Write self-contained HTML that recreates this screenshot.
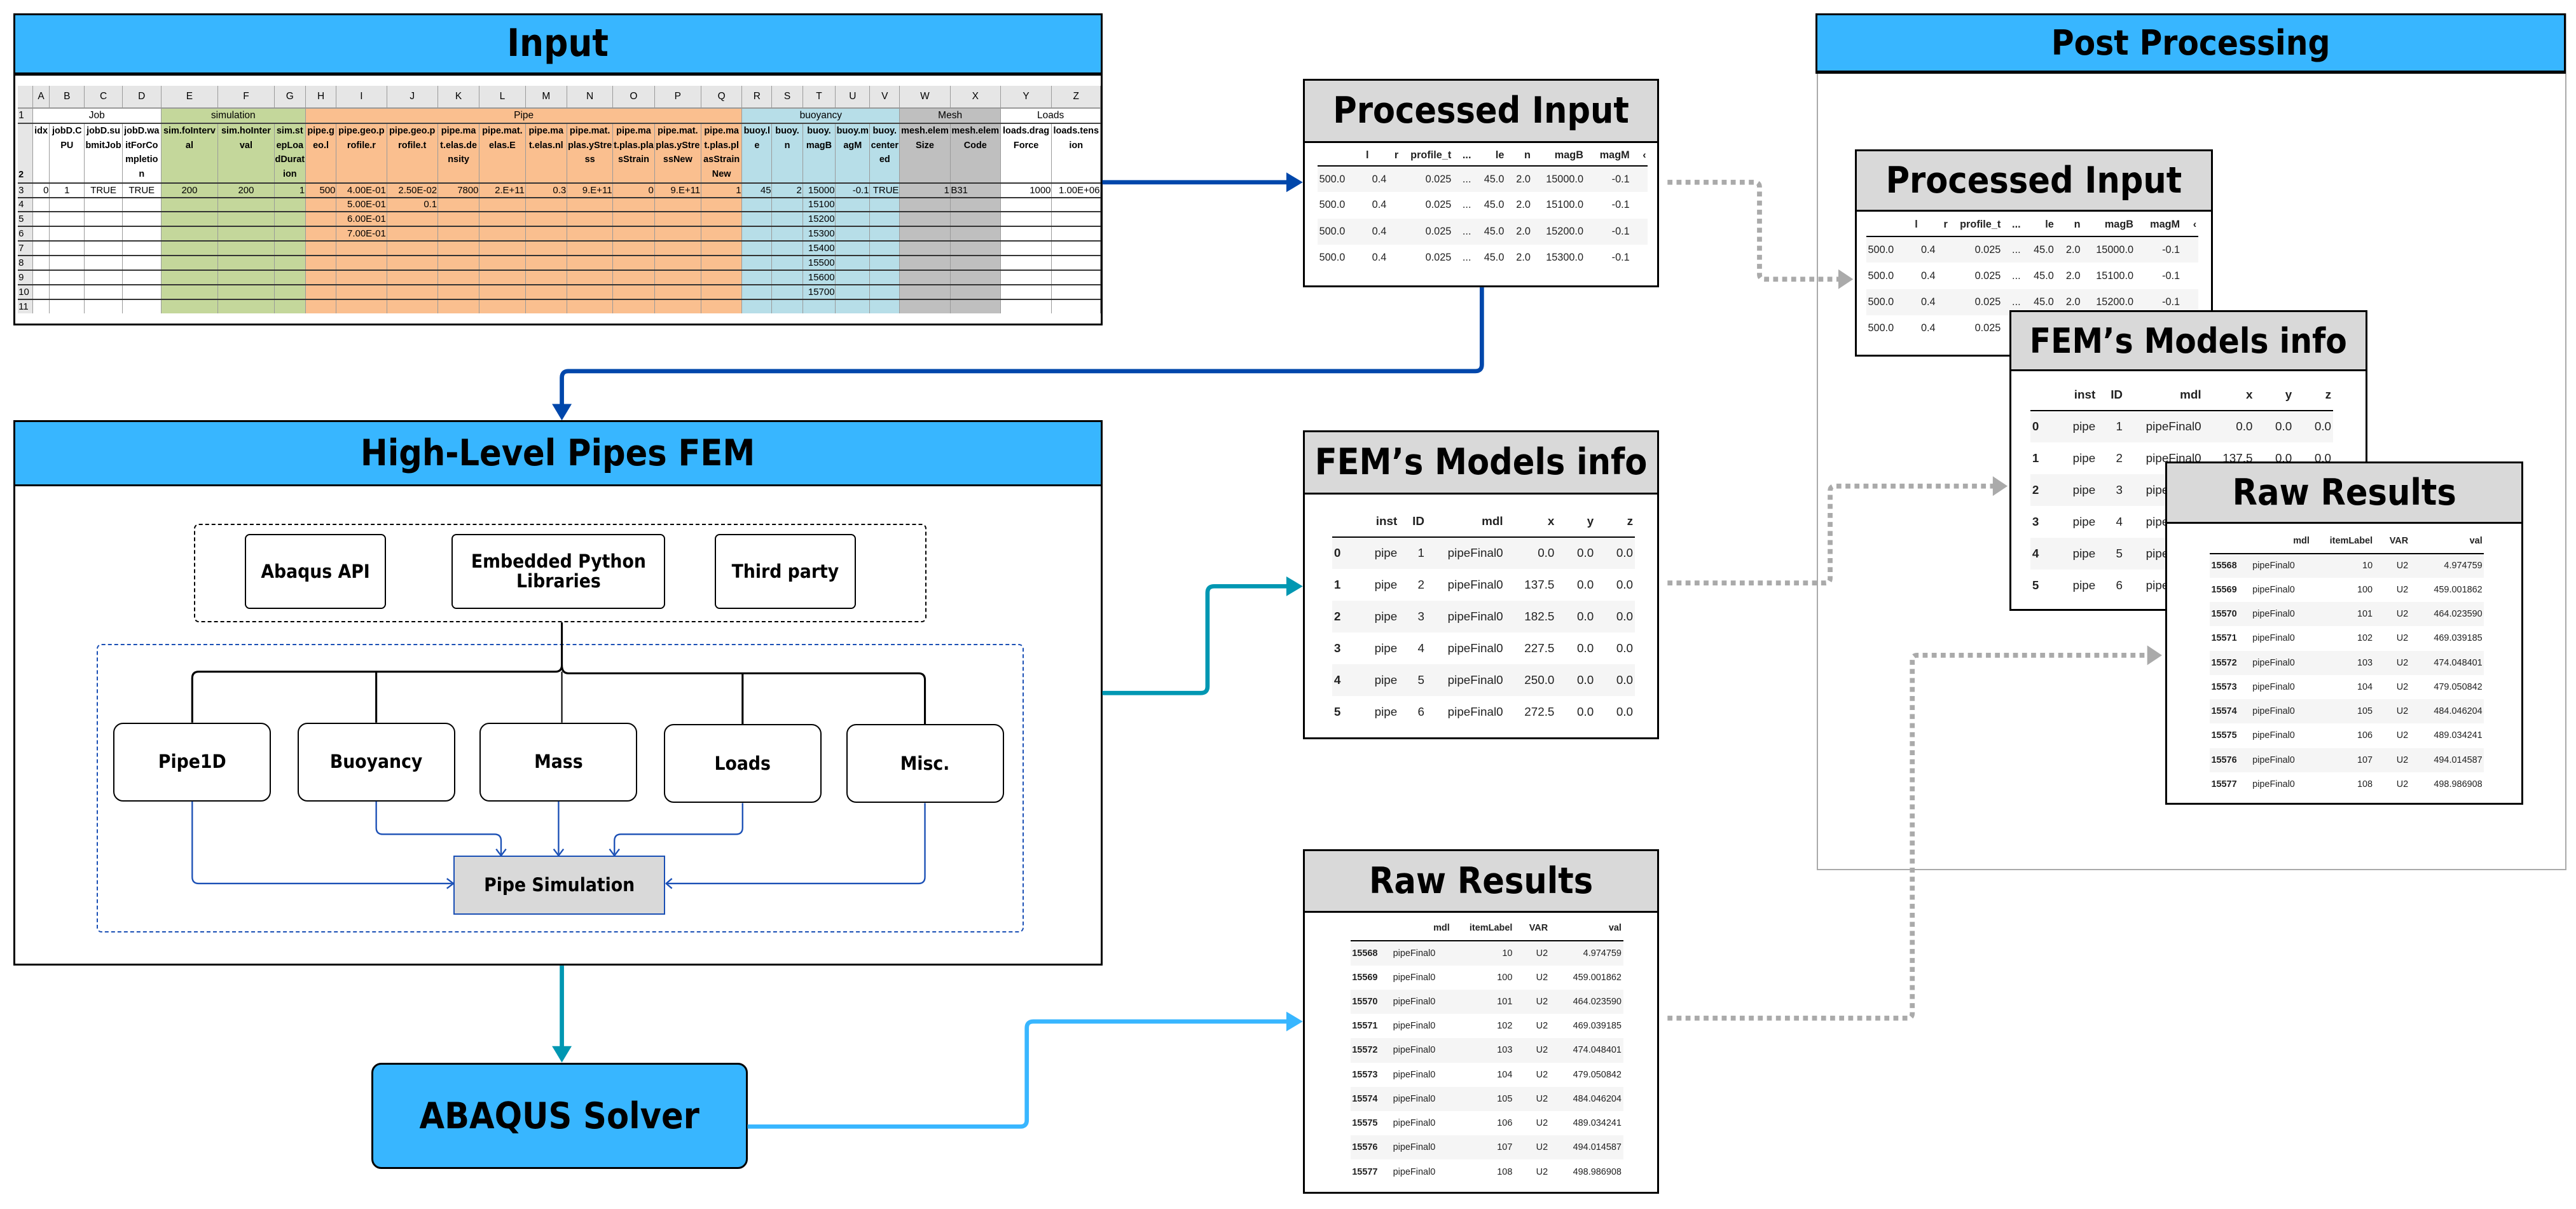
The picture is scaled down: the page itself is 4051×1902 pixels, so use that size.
<!DOCTYPE html>
<html><head><meta charset="utf-8">
<style>
html,body{margin:0;padding:0;background:#fff;}
body{width:4051px;height:1902px;overflow:hidden;}
#c{position:relative;width:1568px;height:736.2px;zoom:2.58355;font-family:"Liberation Sans",sans-serif;}
.a{position:absolute;box-sizing:border-box;}
.ttl{font-family:"DejaVu Sans Condensed","DejaVu Sans",sans-serif;font-weight:bold;color:#000;display:flex;align-items:center;justify-content:center;white-space:nowrap;}
.hb{background:#38b6ff;}
.gb{background:#d9d9d9;border-bottom:1.3px solid #000;}
.box{border:1.3px solid #000;background:#fff;}
.sb{border:1px solid #000;border-radius:3px;background:#fff;font-family:"DejaVu Sans Condensed","DejaVu Sans",sans-serif;font-weight:bold;font-size:11.5px;display:flex;align-items:center;justify-content:center;text-align:center;line-height:12px;}
.ss{border-collapse:collapse;table-layout:fixed;font-family:"Liberation Sans Narrow","Liberation Sans",sans-serif;}
.ss td{padding:0 0.3px;overflow:hidden;border-right:0.4px solid #9a9a9a;white-space:nowrap;font-size:5.8px;color:#000;}
.ss tr.lt td{background:#e6e6e6;text-align:center;height:12.9px;font-size:6px;border-bottom:1px solid #999;}
.ss tr.g td{text-align:center;height:8.6px;border-bottom:0.8px solid #444;font-size:6px;}
.ss tr.h td{height:35.5px;vertical-align:top;white-space:normal;word-break:break-all;font-size:5.6px;line-height:8.8px;font-weight:bold;text-align:center;border-bottom:1px solid #333;}
.ss tr.r td{height:8.1px;text-align:right;border-bottom:0.9px solid #333;}
.ss td.rh{background:#e6e6e6;text-align:left !important;}
.p{color:#7030a0;}
.dt{border-collapse:collapse;table-layout:fixed;width:100%;font-family:"Liberation Sans",sans-serif;color:#222;}
.dt th{font-weight:bold;text-align:right;border-bottom:0.8px solid #000;padding:0 1px;white-space:nowrap;overflow:hidden;}
.dt td{text-align:right;padding:0 1px;white-space:nowrap;overflow:hidden;}
.dt tbody tr:nth-child(odd){background:#f5f5f5;}
.dt td.b{font-weight:bold;}
.dt td.l{text-align:left;}
</style></head><body><div id="c">

<!-- INPUT -->
<div class="a box" style="left:8px;top:8px;width:663px;height:190px;"></div>
<div class="a hb ttl" style="left:8px;top:8px;width:663px;height:38px;border:1.3px solid #000;border-bottom:2px solid #000;font-size:23px;">Input</div>
<table class="ss a" style="left:11px;top:52.4px;width:659px;">
<colgroup>
<col style="width:8.9px"><col style="width:10.2px"><col style="width:21.3px"><col style="width:23.1px"><col style="width:23.5px">
<col style="width:34.7px;background:#c4d79b"><col style="width:34.2px;background:#c4d79b"><col style="width:19.1px;background:#c4d79b">
<col style="width:18.7px;background:#fabf8f"><col style="width:30.7px;background:#fabf8f"><col style="width:31.1px;background:#fabf8f"><col style="width:25.3px;background:#fabf8f"><col style="width:28px;background:#fabf8f"><col style="width:25.3px;background:#fabf8f"><col style="width:28px;background:#fabf8f"><col style="width:25.3px;background:#fabf8f"><col style="width:28.4px;background:#fabf8f"><col style="width:24.9px;background:#fabf8f">
<col style="width:18.2px;background:#b7dee8"><col style="width:18.7px;background:#b7dee8"><col style="width:20px;background:#b7dee8"><col style="width:20.9px;background:#b7dee8"><col style="width:18.2px;background:#b7dee8">
<col style="width:30.7px;background:#bfbfbf"><col style="width:30.7px;background:#bfbfbf">
<col style="width:31.1px"><col style="width:29.8px">
</colgroup>
<tr class="lt"><td style="width:8.9px"></td><td style="width:10.2px">A</td><td style="width:21.3px">B</td><td style="width:23.1px">C</td><td style="width:23.5px">D</td><td style="width:34.7px">E</td><td style="width:34.2px">F</td><td style="width:19.1px">G</td><td style="width:18.7px">H</td><td style="width:30.7px">I</td><td style="width:31.1px">J</td><td style="width:25.3px">K</td><td style="width:28px">L</td><td style="width:25.3px">M</td><td style="width:28px">N</td><td style="width:25.3px">O</td><td style="width:28.4px">P</td><td style="width:24.9px">Q</td><td style="width:18.2px">R</td><td style="width:18.7px">S</td><td style="width:20px">T</td><td style="width:20.9px">U</td><td style="width:18.2px">V</td><td style="width:30.7px">W</td><td style="width:30.7px">X</td><td style="width:31.1px">Y</td><td style="width:29.8px">Z</td></tr>
<tr class="g"><td class="rh">1</td><td colspan="4" style="background:#fff">Job</td><td colspan="3">simulation</td><td colspan="10">Pipe</td><td colspan="5" class="p">buoyancy</td><td colspan="2">Mesh</td><td colspan="2" style="background:#fff">Loads</td></tr>
<tr class="h"><td class="rh" style="vertical-align:bottom">2</td><td>idx</td><td>jobD.CPU</td><td>jobD.submitJob</td><td>jobD.waitForCompletion</td><td>sim.foInterval</td><td>sim.hoInterval</td><td>sim.stepLoadDuration</td><td class="p">pipe.geo.l</td><td class="p">pipe.geo.profile.r</td><td class="p">pipe.geo.profile.t</td><td>pipe.mat.elas.density</td><td>pipe.mat.elas.E</td><td>pipe.mat.elas.nl</td><td>pipe.mat.plas.yStress</td><td>pipe.mat.plas.plasStrain</td><td>pipe.mat.plas.yStressNew</td><td>pipe.mat.plas.plasStrainNew</td><td class="p">buoy.le</td><td class="p">buoy.n</td><td class="p">buoy.magB</td><td class="p">buoy.magM</td><td class="p">buoy.centered</td><td class="p">mesh.elemSize</td><td class="p">mesh.elemCode</td><td>loads.dragForce</td><td>loads.tension</td></tr>
<tr class="r"><td class="rh">3</td><td>0</td><td style="text-align:center">1</td><td style="text-align:center">TRUE</td><td style="text-align:center">TRUE</td><td style="text-align:center">200</td><td style="text-align:center">200</td><td>1</td><td class="p">500</td><td class="p">4.00E-01</td><td class="p">2.50E-02</td><td>7800</td><td>2.E+11</td><td>0.3</td><td>9.E+11</td><td>0</td><td>9.E+11</td><td>1</td><td class="p">45</td><td class="p">2</td><td class="p">15000</td><td class="p">-0.1</td><td class="p">TRUE</td><td class="p">1</td><td class="p" style="text-align:left">B31</td><td>1000</td><td>1.00E+06</td></tr>
<tr class="r"><td class="rh">4</td><td></td><td></td><td></td><td></td><td></td><td></td><td></td><td></td><td class="p">5.00E-01</td><td class="p">0.1</td><td></td><td></td><td></td><td></td><td></td><td></td><td></td><td></td><td></td><td class="p">15100</td><td></td><td></td><td></td><td></td><td></td><td></td></tr>
<tr class="r"><td class="rh">5</td><td></td><td></td><td></td><td></td><td></td><td></td><td></td><td></td><td class="p">6.00E-01</td><td></td><td></td><td></td><td></td><td></td><td></td><td></td><td></td><td></td><td></td><td class="p">15200</td><td></td><td></td><td></td><td></td><td></td><td></td></tr>
<tr class="r"><td class="rh">6</td><td></td><td></td><td></td><td></td><td></td><td></td><td></td><td></td><td class="p">7.00E-01</td><td></td><td></td><td></td><td></td><td></td><td></td><td></td><td></td><td></td><td></td><td class="p">15300</td><td></td><td></td><td></td><td></td><td></td><td></td></tr>
<tr class="r"><td class="rh">7</td><td></td><td></td><td></td><td></td><td></td><td></td><td></td><td></td><td></td><td></td><td></td><td></td><td></td><td></td><td></td><td></td><td></td><td></td><td></td><td class="p">15400</td><td></td><td></td><td></td><td></td><td></td><td></td></tr>
<tr class="r"><td class="rh">8</td><td></td><td></td><td></td><td></td><td></td><td></td><td></td><td></td><td></td><td></td><td></td><td></td><td></td><td></td><td></td><td></td><td></td><td></td><td></td><td class="p">15500</td><td></td><td></td><td></td><td></td><td></td><td></td></tr>
<tr class="r"><td class="rh">9</td><td></td><td></td><td></td><td></td><td></td><td></td><td></td><td></td><td></td><td></td><td></td><td></td><td></td><td></td><td></td><td></td><td></td><td></td><td></td><td class="p">15600</td><td></td><td></td><td></td><td></td><td></td><td></td></tr>
<tr class="r"><td class="rh">10</td><td></td><td></td><td></td><td></td><td></td><td></td><td></td><td></td><td></td><td></td><td></td><td></td><td></td><td></td><td></td><td></td><td></td><td></td><td></td><td class="p">15700</td><td></td><td></td><td></td><td></td><td></td><td></td></tr>
<tr class="r"><td class="rh" style="border-bottom:none;height:5px">11</td><td style="border-bottom:none"></td><td style="border-bottom:none"></td><td style="border-bottom:none"></td><td style="border-bottom:none"></td><td style="border-bottom:none"></td><td style="border-bottom:none"></td><td style="border-bottom:none"></td><td style="border-bottom:none"></td><td style="border-bottom:none"></td><td style="border-bottom:none"></td><td style="border-bottom:none"></td><td style="border-bottom:none"></td><td style="border-bottom:none"></td><td style="border-bottom:none"></td><td style="border-bottom:none"></td><td style="border-bottom:none"></td><td style="border-bottom:none"></td><td style="border-bottom:none"></td><td style="border-bottom:none"></td><td style="border-bottom:none"></td><td style="border-bottom:none"></td><td style="border-bottom:none"></td><td style="border-bottom:none"></td><td style="border-bottom:none"></td><td style="border-bottom:none"></td><td style="border-bottom:none"></td></tr>
</table>

<!-- HIGH LEVEL FEM -->
<div class="a box" style="left:8px;top:256px;width:663px;height:332px;"></div>
<div class="a hb ttl" style="left:8px;top:256px;width:663px;height:40px;border:1.3px solid #000;font-size:22px;">High-Level Pipes FEM</div>
<div class="a" style="left:118px;top:319px;width:446px;height:60px;border:1px dashed #000;border-radius:3px;"></div>
<div class="a sb" style="left:149px;top:325px;width:86px;height:46px;">Abaqus API</div>
<div class="a sb" style="left:275px;top:325px;width:130px;height:46px;">Embedded Python<br>Libraries</div>
<div class="a sb" style="left:435px;top:325px;width:86px;height:46px;">Third party</div>
<div class="a" style="left:59px;top:392px;width:564px;height:176px;border:1px dashed #1a4fb5;border-radius:3px;"></div>
<div class="a sb" style="left:69px;top:440px;width:96px;height:48px;border-radius:6px;">Pipe1D</div>
<div class="a sb" style="left:181px;top:440px;width:96px;height:48px;border-radius:6px;">Buoyancy</div>
<div class="a sb" style="left:292px;top:440px;width:96px;height:48px;border-radius:6px;">Mass</div>
<div class="a sb" style="left:404px;top:441px;width:96px;height:48px;border-radius:6px;">Loads</div>
<div class="a sb" style="left:515px;top:441px;width:96px;height:48px;border-radius:6px;">Misc.</div>
<div class="a sb" style="left:276px;top:521px;width:129px;height:36px;background:#d9d9d9;border:1px solid #1a4fb5;border-radius:0;">Pipe Simulation</div>

<!-- ABAQUS -->
<div class="a hb ttl" style="left:226px;top:647px;width:229px;height:65px;border:1.3px solid #000;border-radius:6px;font-size:22px;">ABAQUS Solver</div>

<!-- MID PROCESSED INPUT -->
<div class="a box" style="left:793px;top:48px;width:217px;height:127px;"></div>
<div class="a gb ttl" style="left:793px;top:48px;width:217px;height:39px;border:1.3px solid #000;font-size:22px;">Processed Input</div>
<div class="a" style="left:802px;top:89px;width:201px;">
<table class="dt" style="font-size:6.3px;">
<colgroup><col style="width:16%"><col style="width:9%"><col style="width:16%"><col style="width:6%"><col style="width:10%"><col style="width:8%"><col style="width:16%"><col style="width:14%"><col style="width:5%"></colgroup>
<thead><tr style="height:12px"><th>l</th><th>r</th><th>profile_t</th><th>...</th><th>le</th><th>n</th><th>magB</th><th>magM</th><th>‹</th></tr></thead>
<tbody>
<tr style="height:16px"><td class="l">500.0</td><td class="l">0.4</td><td>0.025</td><td>...</td><td>45.0</td><td>2.0</td><td>15000.0</td><td>-0.1</td><td></td></tr>
<tr style="height:16px"><td class="l">500.0</td><td class="l">0.4</td><td>0.025</td><td>...</td><td>45.0</td><td>2.0</td><td>15100.0</td><td>-0.1</td><td></td></tr>
<tr style="height:16px"><td class="l">500.0</td><td class="l">0.4</td><td>0.025</td><td>...</td><td>45.0</td><td>2.0</td><td>15200.0</td><td>-0.1</td><td></td></tr>
<tr style="height:16px"><td class="l">500.0</td><td class="l">0.4</td><td>0.025</td><td>...</td><td>45.0</td><td>2.0</td><td>15300.0</td><td>-0.1</td><td></td></tr>
</tbody></table></div>

<!-- MID FEM INFO -->
<div class="a box" style="left:793px;top:262px;width:217px;height:188px;"></div>
<div class="a gb ttl" style="left:793px;top:262px;width:217px;height:39px;border:1.3px solid #000;font-size:22px;">FEM’s Models info</div>
<div class="a" style="left:811px;top:308px;width:184px;">
<table class="dt" style="font-size:7.3px;">
<colgroup><col style="width:8%"><col style="width:14%"><col style="width:9%"><col style="width:26%"><col style="width:17%"><col style="width:13%"><col style="width:13%"></colgroup>
<thead><tr style="height:19px"><th></th><th>inst</th><th style="text-align:right">ID</th><th>mdl</th><th>x</th><th>y</th><th>z</th></tr></thead>
<tbody>
<tr style="height:19.4px"><td class="b l">0</td><td>pipe</td><td>1</td><td>pipeFinal0</td><td>0.0</td><td>0.0</td><td>0.0</td></tr>
<tr style="height:19.4px"><td class="b l">1</td><td>pipe</td><td>2</td><td>pipeFinal0</td><td>137.5</td><td>0.0</td><td>0.0</td></tr>
<tr style="height:19.4px"><td class="b l">2</td><td>pipe</td><td>3</td><td>pipeFinal0</td><td>182.5</td><td>0.0</td><td>0.0</td></tr>
<tr style="height:19.4px"><td class="b l">3</td><td>pipe</td><td>4</td><td>pipeFinal0</td><td>227.5</td><td>0.0</td><td>0.0</td></tr>
<tr style="height:19.4px"><td class="b l">4</td><td>pipe</td><td>5</td><td>pipeFinal0</td><td>250.0</td><td>0.0</td><td>0.0</td></tr>
<tr style="height:19.4px"><td class="b l">5</td><td>pipe</td><td>6</td><td>pipeFinal0</td><td>272.5</td><td>0.0</td><td>0.0</td></tr>
</tbody></table></div>

<!-- MID RAW -->
<div class="a box" style="left:793px;top:517px;width:217px;height:210px;"></div>
<div class="a gb ttl" style="left:793px;top:517px;width:217px;height:39px;border:1.3px solid #000;font-size:22px;">Raw Results</div>
<div class="a" style="left:822px;top:558px;width:166px;">
<table class="dt" style="font-size:5.6px;">
<colgroup><col style="width:15%"><col style="width:22%"><col style="width:23%"><col style="width:13%"><col style="width:27%"></colgroup>
<thead><tr style="height:15px"><th></th><th>mdl</th><th>itemLabel</th><th>VAR</th><th>val</th></tr></thead>
<tbody>
<tr style="height:14.8px"><td class="b l">15568</td><td class="l">pipeFinal0</td><td>10</td><td>U2</td><td>4.974759</td></tr>
<tr style="height:14.8px"><td class="b l">15569</td><td class="l">pipeFinal0</td><td>100</td><td>U2</td><td>459.001862</td></tr>
<tr style="height:14.8px"><td class="b l">15570</td><td class="l">pipeFinal0</td><td>101</td><td>U2</td><td>464.023590</td></tr>
<tr style="height:14.8px"><td class="b l">15571</td><td class="l">pipeFinal0</td><td>102</td><td>U2</td><td>469.039185</td></tr>
<tr style="height:14.8px"><td class="b l">15572</td><td class="l">pipeFinal0</td><td>103</td><td>U2</td><td>474.048401</td></tr>
<tr style="height:14.8px"><td class="b l">15573</td><td class="l">pipeFinal0</td><td>104</td><td>U2</td><td>479.050842</td></tr>
<tr style="height:14.8px"><td class="b l">15574</td><td class="l">pipeFinal0</td><td>105</td><td>U2</td><td>484.046204</td></tr>
<tr style="height:14.8px"><td class="b l">15575</td><td class="l">pipeFinal0</td><td>106</td><td>U2</td><td>489.034241</td></tr>
<tr style="height:14.8px"><td class="b l">15576</td><td class="l">pipeFinal0</td><td>107</td><td>U2</td><td>494.014587</td></tr>
<tr style="height:14.8px"><td class="b l">15577</td><td class="l">pipeFinal0</td><td>108</td><td>U2</td><td>498.986908</td></tr>
</tbody></table></div>

<!-- POST PROCESSING -->
<div class="a" style="left:1106px;top:8px;width:456px;height:522px;border:1px solid #aaa;background:#fff;"></div>
<div class="a hb ttl" style="left:1105px;top:8px;width:457px;height:37px;border:1.3px solid #000;border-bottom:2px solid #000;font-size:21px;">Post Processing</div>

<div class="a box" style="left:1129px;top:91px;width:218px;height:126px;"></div>
<div class="a gb ttl" style="left:1129px;top:91px;width:218px;height:38px;border:1.3px solid #000;font-size:22px;">Processed Input</div>
<div class="a" style="left:1136px;top:130px;width:202px;">
<table class="dt" style="font-size:6.3px;">
<colgroup><col style="width:16%"><col style="width:9%"><col style="width:16%"><col style="width:6%"><col style="width:10%"><col style="width:8%"><col style="width:16%"><col style="width:14%"><col style="width:5%"></colgroup>
<thead><tr style="height:14px"><th>l</th><th>r</th><th>profile_t</th><th>...</th><th>le</th><th>n</th><th>magB</th><th>magM</th><th>‹</th></tr></thead>
<tbody>
<tr style="height:16px"><td class="l">500.0</td><td class="l">0.4</td><td>0.025</td><td>...</td><td>45.0</td><td>2.0</td><td>15000.0</td><td>-0.1</td><td></td></tr>
<tr style="height:16px"><td class="l">500.0</td><td class="l">0.4</td><td>0.025</td><td>...</td><td>45.0</td><td>2.0</td><td>15100.0</td><td>-0.1</td><td></td></tr>
<tr style="height:16px"><td class="l">500.0</td><td class="l">0.4</td><td>0.025</td><td>...</td><td>45.0</td><td>2.0</td><td>15200.0</td><td>-0.1</td><td></td></tr>
<tr style="height:16px"><td class="l">500.0</td><td class="l">0.4</td><td>0.025</td><td>...</td><td>45.0</td><td>2.0</td><td>15300.0</td><td>-0.1</td><td></td></tr>
</tbody></table></div>

<div class="a box" style="left:1223px;top:189px;width:218px;height:183px;"></div>
<div class="a gb ttl" style="left:1223px;top:189px;width:218px;height:37px;border:1.3px solid #000;font-size:21px;">FEM’s Models info</div>
<div class="a" style="left:1236px;top:231px;width:184px;">
<table class="dt" style="font-size:7.3px;">
<colgroup><col style="width:8%"><col style="width:14%"><col style="width:9%"><col style="width:26%"><col style="width:17%"><col style="width:13%"><col style="width:13%"></colgroup>
<thead><tr style="height:19px"><th></th><th>inst</th><th style="text-align:right">ID</th><th>mdl</th><th>x</th><th>y</th><th>z</th></tr></thead>
<tbody>
<tr style="height:19.4px"><td class="b l">0</td><td>pipe</td><td>1</td><td>pipeFinal0</td><td>0.0</td><td>0.0</td><td>0.0</td></tr>
<tr style="height:19.4px"><td class="b l">1</td><td>pipe</td><td>2</td><td>pipeFinal0</td><td>137.5</td><td>0.0</td><td>0.0</td></tr>
<tr style="height:19.4px"><td class="b l">2</td><td>pipe</td><td>3</td><td>pipeFinal0</td><td>182.5</td><td>0.0</td><td>0.0</td></tr>
<tr style="height:19.4px"><td class="b l">3</td><td>pipe</td><td>4</td><td>pipeFinal0</td><td>227.5</td><td>0.0</td><td>0.0</td></tr>
<tr style="height:19.4px"><td class="b l">4</td><td>pipe</td><td>5</td><td>pipeFinal0</td><td>250.0</td><td>0.0</td><td>0.0</td></tr>
<tr style="height:19.4px"><td class="b l">5</td><td>pipe</td><td>6</td><td>pipeFinal0</td><td>272.5</td><td>0.0</td><td>0.0</td></tr>
</tbody></table></div>

<div class="a box" style="left:1318px;top:281px;width:218px;height:209px;"></div>
<div class="a gb ttl" style="left:1318px;top:281px;width:218px;height:38px;border:1.3px solid #000;font-size:22px;">Raw Results</div>
<div class="a" style="left:1345px;top:322px;width:167px;">
<table class="dt" style="font-size:5.6px;">
<colgroup><col style="width:15%"><col style="width:22%"><col style="width:23%"><col style="width:13%"><col style="width:27%"></colgroup>
<thead><tr style="height:15px"><th></th><th>mdl</th><th>itemLabel</th><th>VAR</th><th>val</th></tr></thead>
<tbody>
<tr style="height:14.8px"><td class="b l">15568</td><td class="l">pipeFinal0</td><td>10</td><td>U2</td><td>4.974759</td></tr>
<tr style="height:14.8px"><td class="b l">15569</td><td class="l">pipeFinal0</td><td>100</td><td>U2</td><td>459.001862</td></tr>
<tr style="height:14.8px"><td class="b l">15570</td><td class="l">pipeFinal0</td><td>101</td><td>U2</td><td>464.023590</td></tr>
<tr style="height:14.8px"><td class="b l">15571</td><td class="l">pipeFinal0</td><td>102</td><td>U2</td><td>469.039185</td></tr>
<tr style="height:14.8px"><td class="b l">15572</td><td class="l">pipeFinal0</td><td>103</td><td>U2</td><td>474.048401</td></tr>
<tr style="height:14.8px"><td class="b l">15573</td><td class="l">pipeFinal0</td><td>104</td><td>U2</td><td>479.050842</td></tr>
<tr style="height:14.8px"><td class="b l">15574</td><td class="l">pipeFinal0</td><td>105</td><td>U2</td><td>484.046204</td></tr>
<tr style="height:14.8px"><td class="b l">15575</td><td class="l">pipeFinal0</td><td>106</td><td>U2</td><td>489.034241</td></tr>
<tr style="height:14.8px"><td class="b l">15576</td><td class="l">pipeFinal0</td><td>107</td><td>U2</td><td>494.014587</td></tr>
<tr style="height:14.8px"><td class="b l">15577</td><td class="l">pipeFinal0</td><td>108</td><td>U2</td><td>498.986908</td></tr>
</tbody></table></div>

<!-- CONNECTORS -->
<svg class="a" style="left:0;top:0;" width="1568" height="736" viewBox="0 0 1568 736">
<g fill="none" stroke-linejoin="round">
<path d="M671 111 H785" stroke="#0047ab" stroke-width="2.6"/>
<path d="M902 175 V222 Q902 226 898 226 H346 Q342 226 342 230 V248" stroke="#0047ab" stroke-width="2.6"/>
<path d="M671 422 H731 Q735 422 735 418 V361 Q735 357 739 357 H785" stroke="#0097b2" stroke-width="2.6"/>
<path d="M342 588 V639" stroke="#0097b2" stroke-width="2.6"/>
<path d="M455 686 H621 Q625 686 625 682 V626 Q625 622 629 622 H785" stroke="#38b6ff" stroke-width="2.6"/>
<path d="M1015 111 H1068 Q1071 111 1071 114 V167 Q1071 170 1074 170 H1120" stroke="#aaa" stroke-width="3" stroke-dasharray="3 2.5"/>
<path d="M1015 355 H1111 Q1114 355 1114 352 V299 Q1114 296 1117 296 H1214" stroke="#aaa" stroke-width="3" stroke-dasharray="3 2.5"/>
<path d="M1015 620 H1161 Q1164 620 1164 617 V402 Q1164 399 1167 399 H1308" stroke="#aaa" stroke-width="3" stroke-dasharray="3 2.5"/>
<path d="M342 379 V405 Q342 409 338 409 H121 Q117 409 117 413 V440" stroke="#000" stroke-width="1.2"/>
<path d="M229 409 Q229 410 229 413 V440" stroke="#000" stroke-width="1.2"/>
<path d="M342 405 Q342 410 346 410 H559 Q563 410 563 414 V441" stroke="#000" stroke-width="1.2"/>
<path d="M452 410 V441" stroke="#000" stroke-width="1.2"/>
<path d="M342 409 V440" stroke="#000" stroke-width="0.8"/>
<g stroke="#1a4fb5" stroke-width="0.9">
<path d="M117 488 V534 Q117 538 121 538 H275"/>
<path d="M229 488 V504 Q229 508 233 508 H301 Q305 508 305 512 V520"/>
<path d="M340 488 V520"/>
<path d="M452 489 V504 Q452 508 448 508 H378 Q374 508 374 512 V520"/>
<path d="M563 489 V534 Q563 538 559 538 H406"/>
<path d="M272 535 L276 538 L272 541 M302 517 L305 521 L308 517 M337 517 L340 521 L343 517 M371 517 L374 521 L377 517 M409 535 L405.5 538 L409 541"/>
</g>
</g>
<g stroke="none">
<polygon points="783,105 793,111 783,117" fill="#0047ab"/>
<polygon points="336,246 342,256 348,246" fill="#0047ab"/>
<polygon points="783,351 793,357 783,363" fill="#0097b2"/>
<polygon points="336,637 342,647 348,637" fill="#0097b2"/>
<polygon points="783,616 793,622 783,628" fill="#38b6ff"/>
<polygon points="1119,164 1128,170 1119,176" fill="#aaa"/>
<polygon points="1213,290 1222,296 1213,302" fill="#aaa"/>
<polygon points="1307,393 1316,399 1307,405" fill="#aaa"/>
</g>
</svg>
</div></body></html>
